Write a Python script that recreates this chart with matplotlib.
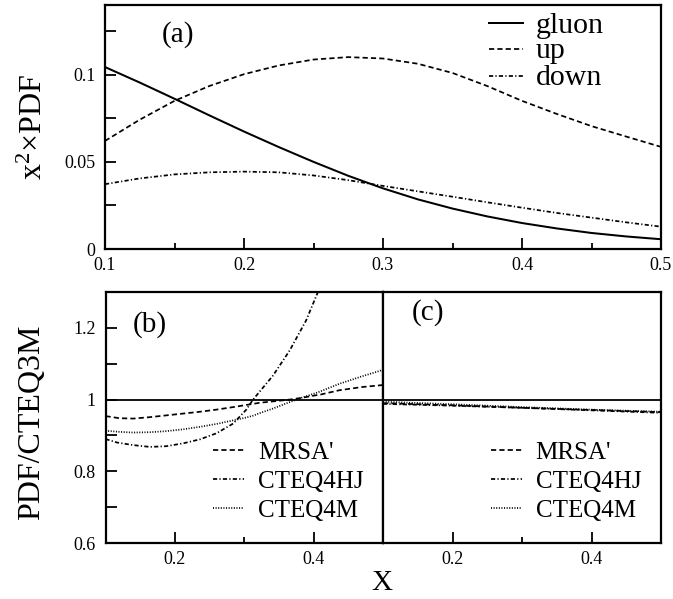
import matplotlib
matplotlib.use("Agg")
import matplotlib.pyplot as plt
from matplotlib.ticker import MultipleLocator, FixedLocator

plt.rcParams['font.family'] = ['Liberation Serif', 'DejaVu Serif']
plt.rcParams['mathtext.fontset'] = 'custom'
plt.rcParams['mathtext.rm'] = 'Liberation Serif'
plt.rcParams['mathtext.it'] = 'Liberation Serif:italic'

# ---- panel (a) data ----
x_top = [0.10, 0.125, 0.15, 0.175, 0.20, 0.225, 0.25, 0.275, 0.30, 0.325,
         0.35, 0.375, 0.40, 0.425, 0.45, 0.475, 0.50]
gluon = [0.1044, 0.0955, 0.0862, 0.0767, 0.0674, 0.0585, 0.0500, 0.0420, 0.0348,
         0.0285, 0.0232, 0.0187, 0.0149, 0.0118, 0.0092, 0.0072, 0.0056]
up = [0.0620, 0.0742, 0.0850, 0.0935, 0.1003, 0.1053, 0.1087, 0.1101, 0.1093,
      0.1063, 0.1010, 0.0935, 0.0850, 0.0775, 0.0705, 0.0645, 0.0586]
down = [0.0372, 0.0405, 0.0428, 0.0440, 0.0444, 0.0440, 0.0422, 0.0395, 0.0362,
        0.0331, 0.0300, 0.0268, 0.0237, 0.0207, 0.0180, 0.0153, 0.0128]

# ---- panel (b) data ----
x_b = [0.10, 0.12, 0.14, 0.164, 0.188, 0.212, 0.236, 0.26, 0.284, 0.303, 0.3127,
       0.322, 0.3415, 0.3655, 0.38, 0.389, 0.406, 0.41, 0.437, 0.47, 0.497, 0.50]
mrsa_b = [0.954, 0.948, 0.947, 0.951, 0.956, 0.961, 0.966, 0.972, 0.979, 0.985, 0.988,
          0.991, 0.995, 1.000, 1.004, 1.007, 1.013, 1.014, 1.026, 1.035, 1.040, 1.041]
cteq4m_b = [0.913, 0.910, 0.908, 0.909, 0.912, 0.917, 0.924, 0.932, 0.942, 0.950, 0.955,
            0.962, 0.975, 0.993, 1.003, 1.009, 1.020, 1.023, 1.044, 1.065, 1.081, 1.083]
x_hj = [0.10, 0.117, 0.14, 0.164, 0.188, 0.212, 0.236, 0.26, 0.284, 0.303, 0.3127,
        0.3415, 0.3655, 0.389, 0.406, 0.41]
cteq4hj_b = [0.890, 0.880, 0.873, 0.868, 0.870, 0.878, 0.889, 0.906, 0.933, 0.972, 1.000,
             1.067, 1.137, 1.220, 1.299, 1.320]

# ---- panel (c) data ----
x_c = [0.10, 0.20, 0.30, 0.40, 0.50]
mrsa_c = [0.990, 0.984, 0.977, 0.971, 0.965]
cteq4hj_c = [0.988, 0.983, 0.977, 0.970, 0.963]
cteq4m_c = [0.994, 0.987, 0.979, 0.972, 0.966]

top_labels = ["gluon", "up", "down"]
bot_labels = ["MRSA'", "CTEQ4HJ", "CTEQ4M"]

LW = 1.25
DASH = (0, (3, 1.8))
DASHDOT = (0, (2.4, 1.3, 0.7, 1.3))
DOT = (0, (0.6, 0.9))
SOLID = '-'

fig = plt.figure(figsize=(6.73, 5.99), dpi=100)
W, H = 673.0, 599.0
axa = fig.add_axes([105 / W, (H - 249) / H, 556 / W, 244 / H])
axb = fig.add_axes([105.5 / W, (H - 543) / H, 277.5 / W, 251 / H])
axc = fig.add_axes([383 / W, (H - 543) / H, 278 / W, 251 / H])

for ax in (axa, axb, axc):
    for s in ax.spines.values():
        s.set_linewidth(1.6)
    ax.tick_params(which='both', direction='in', top=False, right=False,
                   labelsize=13, width=1.3)
    ax.tick_params(which='major', length=8)
    ax.tick_params(axis='x', which='minor', length=4.5)
    ax.tick_params(axis='y', which='minor', length=8)
    ax.tick_params(axis='x', pad=6)
    ax.tick_params(axis='y', pad=7)

# panel (a)
axa.plot(x_top, gluon, color='black', lw=LW + 0.2, linestyle=SOLID)
axa.plot(x_top, up, color='black', lw=LW, linestyle=DASH)
axa.plot(x_top, down, color='black', lw=LW, linestyle=DASHDOT)
axa.set_xlim(0.1, 0.5)
axa.set_ylim(0, 0.14)
axa.xaxis.set_major_locator(FixedLocator([0.1, 0.2, 0.3, 0.4, 0.5]))
axa.xaxis.set_minor_locator(MultipleLocator(0.05))
axa.set_xticklabels(['0.1', '0.2', '0.3', '0.4', '0.5'])
axa.yaxis.set_major_locator(FixedLocator([0, 0.05, 0.1]))
axa.yaxis.set_minor_locator(FixedLocator([0.025, 0.075, 0.125]))
axa.set_yticklabels(['0', '0.05', '0.1'])
axa.set_ylabel(r'x$^{\mathrm{2}}$×PDF', fontsize=23)
axa.yaxis.set_label_coords(-0.101, 0.5)
axa.text(0.1025, 0.848, '(a)', transform=axa.transAxes, fontsize=21)

styles_top = [(SOLID, LW + 0.2), (DASH, LW), (DASHDOT, LW)]
line_ys = [0.926, 0.820, 0.709]
base_ys = [0.885, 0.783, 0.672]
for lab, (ls, lw), ly, by in zip(top_labels, styles_top, line_ys, base_ys):
    axa.plot([0.691, 0.752], [ly, ly], transform=axa.transAxes, color='black',
             lw=lw, linestyle=ls)
    axa.text(0.775, by, lab, transform=axa.transAxes, fontsize=21.5, va='baseline')

# panel (b)
axb.axhline(1.0, color='black', lw=1.3)
axb.plot(x_b, mrsa_b, color='black', lw=LW, linestyle=DASH)
axb.plot(x_hj, cteq4hj_b, color='black', lw=LW, linestyle=DASHDOT)
axb.plot(x_b, cteq4m_b, color='black', lw=LW, linestyle=DOT)
axb.set_xlim(0.1, 0.5)
axb.set_ylim(0.6, 1.3)
axb.xaxis.set_major_locator(FixedLocator([0.2, 0.4]))
axb.xaxis.set_minor_locator(FixedLocator([0.3]))
axb.set_xticklabels(['0.2', '0.4'])
axb.yaxis.set_major_locator(FixedLocator([0.6, 0.8, 1.0, 1.2]))
axb.yaxis.set_minor_locator(FixedLocator([0.7, 0.9, 1.1]))
axb.set_yticklabels(['0.6', '0.8', '1', '1.2'])
axb.set_ylabel('PDF/CTEQ3M', fontsize=23)
axb.yaxis.set_label_coords(-0.214, 0.482)
axb.text(0.099, 0.842, '(b)', transform=axb.transAxes, fontsize=21)

# panel (c)
axc.axhline(1.0, color='black', lw=1.3)
axc.plot(x_c, mrsa_c, color='black', lw=LW, linestyle=DASH)
axc.plot(x_c, cteq4hj_c, color='black', lw=LW, linestyle=DASHDOT)
axc.plot(x_c, cteq4m_c, color='black', lw=LW, linestyle=DOT)
axc.set_xlim(0.1, 0.5)
axc.set_ylim(0.6, 1.3)
axc.xaxis.set_major_locator(FixedLocator([0.2, 0.4]))
axc.xaxis.set_minor_locator(FixedLocator([0.3]))
axc.set_xticklabels(['0.2', '0.4'])
axc.tick_params(axis='y', which='both', left=False, labelleft=False)
axc.text(0.104, 0.888, '(c)', transform=axc.transAxes, fontsize=21)

styles_bot = [DASH, DASHDOT, DOT]
bl_ys = [0.3705, 0.255, 0.139]
bb_ys = [0.3335, 0.219, 0.1036]
for ax in (axb, axc):
    for lab, ls, ly, by in zip(bot_labels, styles_bot, bl_ys, bb_ys):
        ax.plot([0.387, 0.50], [ly, ly], transform=ax.transAxes, color='black',
                lw=LW, linestyle=ls)
        ax.text(0.549, by, lab, transform=ax.transAxes, fontsize=18, va='baseline')

fig.text(382 / W, 1 - 583 / H, 'X', fontsize=21, ha='center', va='center')

fig.savefig('out.png', dpi=100)
